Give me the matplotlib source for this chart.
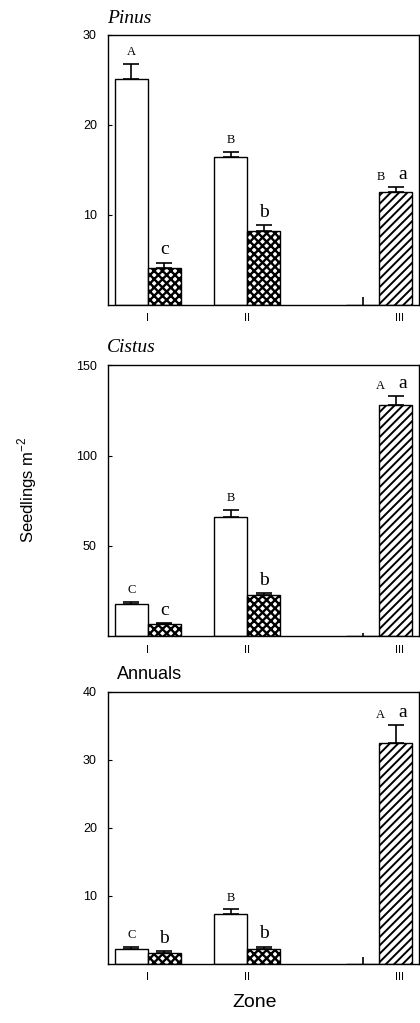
import matplotlib
matplotlib.use('Agg')
import matplotlib.pyplot as plt

plt.rcParams['font.family'] = ['Liberation Sans', 'DejaVu Sans']

# data (open bars / cross-hatched bars / zone III bar)
zones = ['I', 'II', 'III']
panels = ['Pinus', 'Cistus', 'Annuals']

pinus_open = [25.1, 16.4, 0.0]
pinus_open_err = [1.7, 0.6, 0.9]
pinus_hatch = [4.1, 8.2, 12.5]
pinus_hatch_err = [0.6, 0.7, 0.6]

cistus_open = [17.8, 66.0, 0.0]
cistus_open_err = [1.2, 4.0, 2.0]
cistus_hatch = [6.7, 22.8, 127.8]
cistus_hatch_err = [0.4, 1.0, 5.0]

annuals_open = [2.2, 7.3, 0.0]
annuals_open_err = [0.3, 0.7, 1.0]
annuals_hatch = [1.5, 2.2, 32.5]
annuals_hatch_err = [0.3, 0.3, 2.6]

# significance letters
pinus_upper = ['A', 'B', 'B']
pinus_lower = ['c', 'b', 'a']
cistus_upper = ['C', 'B', 'A']
cistus_lower = ['c', 'b', 'a']
annuals_upper = ['C', 'B', 'A']
annuals_lower = ['b', 'b', 'a']

ymax = [30, 150, 40]
yticks = [[10, 20, 30], [50, 100, 150], [10, 20, 30, 40]]

open_x = [0, 3, 7]
hatch_x = [1, 4, 8]
hatch_style = ['xxxx', 'xxxx', '////']
hatch_lw = [1.7, 1.7, 1.4]
zone_tick_x = [0.5, 3.5, 8.1]

data = [
    (pinus_open, pinus_open_err, pinus_hatch, pinus_hatch_err, pinus_upper, pinus_lower),
    (cistus_open, cistus_open_err, cistus_hatch, cistus_hatch_err, cistus_upper, cistus_lower),
    (annuals_open, annuals_open_err, annuals_hatch, annuals_hatch_err, annuals_upper, annuals_lower),
]

fig = plt.figure(figsize=(4.2, 10.23), dpi=100)
boxes = [[0.257, 0.702, 0.741, 0.264],
         [0.257, 0.378, 0.741, 0.265],
         [0.257, 0.058, 0.741, 0.266]]

for i, (o, oe, h, he, up, lo) in enumerate(data):
    ax = fig.add_axes(boxes[i])
    ax.bar(open_x, o, width=1.0, color='white', edgecolor='black', linewidth=1.0)
    for j in range(3):
        with plt.rc_context({'hatch.linewidth': hatch_lw[j]}):
            ax.bar(hatch_x[j], h[j], width=1.0, color='white', edgecolor='black',
                   linewidth=1.0, hatch=hatch_style[j])
    # error bars (upper only)
    for j in range(3):
        cap = 0 if o[j] == 0 else 6
        ax.errorbar(open_x[j], o[j], yerr=[[0], [oe[j]]], fmt='none',
                    ecolor='black', elinewidth=1.2, capsize=cap, capthick=1.2)
        ax.errorbar(hatch_x[j], h[j], yerr=[[0], [he[j]]], fmt='none',
                    ecolor='black', elinewidth=1.2, capsize=6, capthick=1.2)
    # letters
    for j in range(2):
        ax.annotate(up[j], (open_x[j], o[j] + oe[j]), xytext=(0, 4),
                    textcoords='offset points', ha='center', va='bottom',
                    family='Liberation Serif', fontsize=9)
        ax.annotate(lo[j], (hatch_x[j], h[j] + he[j]), xytext=(0, 3),
                    textcoords='offset points', ha='center', va='bottom',
                    family='Liberation Serif', fontsize=14)
    top3 = h[2] + he[2]
    ax.annotate(up[2], (hatch_x[2] - 0.45, top3), xytext=(0, 3),
                textcoords='offset points', ha='center', va='bottom',
                family='Liberation Serif', fontsize=9)
    ax.annotate(lo[2], (hatch_x[2] + 0.22, top3), xytext=(0, 3),
                textcoords='offset points', ha='center', va='bottom',
                family='Liberation Serif', fontsize=14)

    ax.set_xlim(-0.71, 8.71)
    ax.set_ylim(0, ymax[i])
    ax.set_yticks(yticks[i])
    ax.set_xticks(zone_tick_x)
    ax.set_xticklabels(zones, fontsize=8)
    ax.tick_params(axis='x', length=0, pad=6)
    ax.tick_params(axis='y', direction='in', length=3, labelsize=9, pad=8)
    for s in ax.spines.values():
        s.set_linewidth(1.0)

fig.text(0.255, 0.982, 'Pinus', family='Liberation Serif', style='italic',
         fontsize=14, va='center', ha='left')
fig.text(0.255, 0.660, 'Cistus', family='Liberation Serif', style='italic',
         fontsize=14, va='center', ha='left')
fig.text(0.278, 0.341, 'Annuals', fontsize=13, va='center', ha='left')

fig.text(0.064, 0.521, 'Seedlings m$^{\\mathregular{-2}}$', rotation=90,
         fontsize=12, va='center', ha='center')
fig.text(0.607, 0.0196, 'Zone', fontsize=14, va='center', ha='center')

fig.savefig('out.png', dpi=100)
